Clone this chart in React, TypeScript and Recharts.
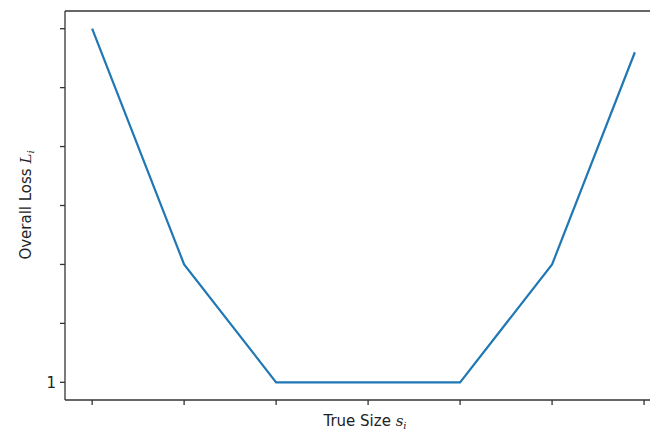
import { LineChart, Line, XAxis, YAxis } from "recharts";

const sizes = [0, 1, 2, 4, 5, 5.9];
const losses = [7, 3, 1, 1, 3, 6.6];
const xTicks = [0, 1, 2, 3, 4, 5, 6];
const yTicks = [1, 2, 3, 4, 5, 6, 7];

const data = sizes.map((s, i) => ({ s, loss: losses[i] }));

const FONT = "'DejaVu Sans', sans-serif";
const AXIS = "#333";

const subStyle = { fontSize: 10, verticalAlign: "-0.25em", lineHeight: 0 };

export default function App() {
  return (
    <div
      style={{
        position: "absolute",
        left: 0,
        top: 0,
        width: 650,
        height: 432,
        overflow: "hidden",
        background: "#fff",
        fontFamily: FONT,
      }}
    >
      <LineChart
        width={700}
        height={432}
        data={data}
        margin={{ top: 10, right: 37, left: 0, bottom: 0 }}
      >
        <XAxis
          dataKey="s"
          type="number"
          domain={[-0.295, 6.195]}
          ticks={xTicks}
          tickFormatter={() => ""}
          height={32}
          stroke={AXIS}
          strokeWidth={1.3}
          tickSize={5}
          allowDataOverflow
        />
        <XAxis
          xAxisId="top"
          orientation="top"
          dataKey="s"
          type="number"
          domain={[-0.295, 6.195]}
          ticks={xTicks}
          tick={false}
          tickLine={false}
          height={1}
          stroke={AXIS}
          strokeWidth={1.3}
        />
        <YAxis
          type="number"
          domain={[0.7, 7.3]}
          ticks={yTicks}
          tickFormatter={(v: number) => (v === 1 ? "1" : "")}
          width={65}
          stroke={AXIS}
          strokeWidth={1.3}
          tickSize={5}
          tickMargin={4}
          tick={{ fill: "#222", fontSize: 15, fontFamily: FONT }}
          allowDataOverflow
        />
        <YAxis
          yAxisId="right"
          orientation="right"
          type="number"
          domain={[0.7, 7.3]}
          tick={false}
          tickLine={false}
          width={1}
          stroke={AXIS}
        />
        <Line
          dataKey="loss"
          type="linear"
          stroke="#1f77b4"
          strokeWidth={2.2}
          dot={false}
          isAnimationActive={false}
        />
      </LineChart>
      <div
        style={{
          position: "absolute",
          left: 0,
          top: 412,
          width: 730,
          textAlign: "center",
          fontSize: 15,
          color: "#222",
          lineHeight: "18px",
        }}
      >
        True Size{" "}
        <span style={{ fontStyle: "italic", fontFamily: "'DejaVu Serif', serif" }}>
          s<span style={subStyle}>i</span>
        </span>
      </div>
      <div
        style={{
          position: "absolute",
          left: 26,
          top: 205,
          transform: "translate(-50%, -50%) rotate(-90deg)",
          whiteSpace: "nowrap",
          fontSize: 15,
          color: "#222",
          lineHeight: "18px",
        }}
      >
        Overall Loss{" "}
        <span style={{ fontStyle: "italic", fontFamily: "'DejaVu Serif', serif" }}>
          L<span style={subStyle}>i</span>
        </span>
      </div>
    </div>
  );
}
